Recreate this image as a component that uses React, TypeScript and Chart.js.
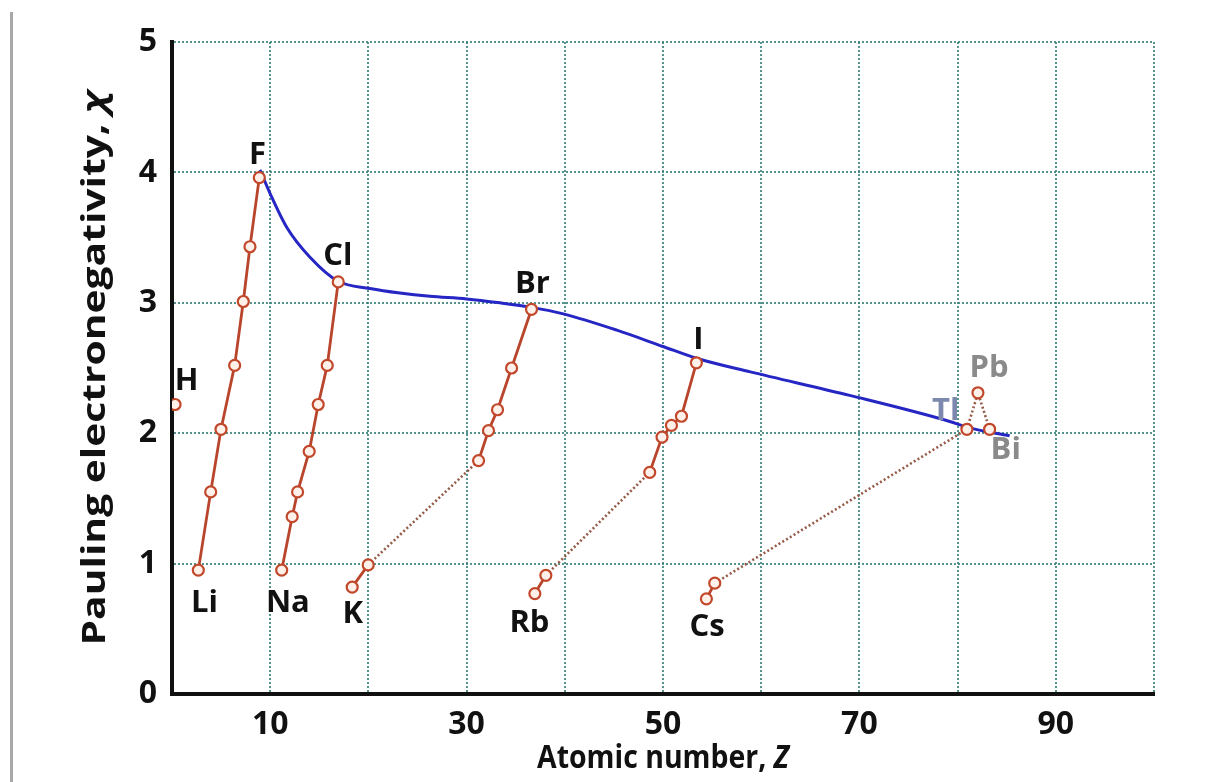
import React, { useEffect, useRef } from 'react';
import { Chart, registerables } from 'chart.js';

Chart.register(...registerables);

// ---- Data ----
const hydrogenX = [0.31];
const hydrogenY = [2.22];

// Period 2: Li, Be, B, C, N, O, F
const period2X = [2.68, 3.94, 4.99, 6.38, 7.26, 7.94, 8.89];
const period2Y = [0.95, 1.55, 2.03, 2.52, 3.01, 3.43, 3.96];

// Period 3: Na, Mg, Al, Si, P, S, Cl
const period3X = [11.17, 12.24, 12.79, 13.97, 14.89, 15.81, 16.93];
const period3Y = [0.95, 1.36, 1.55, 1.86, 2.22, 2.52, 3.16];

// Period 4: K, Ca | Ga, Ge, As, Se, Br
const period4sX = [18.35, 19.98];
const period4sY = [0.82, 0.99];
const period4pX = [31.22, 32.23, 33.15, 34.58, 36.61];
const period4pY = [1.79, 2.02, 2.18, 2.5, 2.95];

// Period 5: Rb, Sr | In, Sn, Sb, Te, I
const period5sX = [36.95, 38.07];
const period5sY = [0.77, 0.91];
const period5pX = [48.65, 49.9, 50.86, 51.88, 53.4];
const period5pY = [1.7, 1.97, 2.06, 2.13, 2.54];

// Period 6: Cs, Ba | Tl, Pb, Bi
const period6sX = [54.42, 55.27];
const period6sY = [0.73, 0.85];
const period6pX = [80.95, 82.07, 83.26];
const period6pY = [2.03, 2.31, 2.03];

// Halogen trend curve (blue)
const curveX = [8.96, 9.98, 11.68, 14.05, 16.93, 20.16, 23.2, 26.27, 30.0, 33.4, 36.63, 39.85, 45.3, 50.0, 53.4, 58.9, 69.0, 79.2, 81.0, 85.3];
const curveY = [4.02, 3.84, 3.58, 3.35, 3.165, 3.11, 3.075, 3.05, 3.03, 3.0, 2.965, 2.915, 2.79, 2.665, 2.575, 2.47, 2.29, 2.09, 2.045, 1.98];

// Element labels
const labelText = ['F', 'Cl', 'Br', 'I', 'H', 'Li', 'Na', 'K', 'Rb', 'Cs', 'Pb', 'Tl', 'Bi'];
const labelX = [8.7, 16.9, 36.7, 53.6, 1.5, 3.3, 11.8, 18.4, 36.4, 54.5, 83.2, 78.8, 84.9];
const labelY = [4.13, 3.36, 3.14, 2.71, 2.4, 0.7, 0.7, 0.61, 0.54, 0.51, 2.5, 2.17, 1.87];
const labelColor = ['#111', '#111', '#111', '#111', '#111', '#111', '#111', '#111', '#111', '#111', '#8a8a8a', '#7c88ad', '#8a8a8a'];

// Axes
const xMin = 0;
const xMax = 100;
const xStep = 10;
const yMin = 0;
const yMax = 5;
const yStep = 1;
const xTitle = 'Atomic number, ';
const xTitleItalic = 'Z';
const yTitle = 'Pauling electronegativity, ';
const yTitleItalic = 'χ';

const FONT = "'Open Sans', 'DejaVu Sans', sans-serif";
const RED = '#b8452c';
const MARKER_FILL = '#fff1ea';
const DOT = '#955a46';
const BLUE = '#2626c4';
const GRID = 'rgba(55,128,120,0.85)';

const pts = (xs: number[], ys: number[]) => xs.map((x, i) => ({ x, y: ys[i] }));
const last = (xs: number[], ys: number[]) => ({ x: xs[xs.length - 1], y: ys[ys.length - 1] });
const first = (xs: number[], ys: number[]) => ({ x: xs[0], y: ys[0] });

const solid = (data: { x: number; y: number }[]) => ({
  data,
  showLine: true,
  borderColor: RED,
  borderWidth: 2.8,
  pointRadius: 5.5,
  pointBorderWidth: 2.2,
  pointBorderColor: '#c2482b',
  pointBackgroundColor: MARKER_FILL,
  tension: 0,
  order: 1,
});

const dotted = (data: { x: number; y: number }[]) => ({
  data,
  showLine: true,
  borderColor: DOT,
  borderWidth: 2.6,
  borderDash: [2, 2.4],
  pointRadius: 0,
  tension: 0,
  order: 3,
});

const labelsPlugin = {
  id: 'elementLabels',
  afterDatasetsDraw(chart: any) {
    const { ctx, scales } = chart;
    ctx.save();
    ctx.font = `bold 31px ${FONT}`;
    ctx.textAlign = 'center';
    ctx.textBaseline = 'middle';
    labelText.forEach((t, i) => {
      ctx.fillStyle = labelColor[i];
      ctx.fillText(t, scales.x.getPixelForValue(labelX[i]), scales.y.getPixelForValue(labelY[i]));
    });
    ctx.restore();
  },
};

function drawMixed(ctx: CanvasRenderingContext2D, normal: string, italic: string, targetWidth: number) {
  ctx.font = `bold 32px ${FONT}`;
  const w1 = ctx.measureText(normal).width;
  ctx.font = `italic bold 32px ${FONT}`;
  const w2 = ctx.measureText(italic).width;
  const total = w1 + w2;
  const s = targetWidth / total;
  ctx.scale(s, 1);
  ctx.textBaseline = 'alphabetic';
  ctx.textAlign = 'left';
  ctx.fillStyle = '#111';
  ctx.font = `bold 32px ${FONT}`;
  ctx.fillText(normal, -total / 2, 0);
  ctx.font = `italic bold 32px ${FONT}`;
  ctx.fillText(italic, -total / 2 + w1, 0);
}

const titlesPlugin = {
  id: 'axisTitles',
  afterDraw(chart: any) {
    const { ctx, chartArea } = chart;
    ctx.save();
    ctx.translate((chartArea.left + chartArea.right) / 2, chartArea.bottom + 74);
    drawMixed(ctx, xTitle, xTitleItalic, 252);
    ctx.restore();
    ctx.save();
    ctx.translate(chartArea.left - 67, (chartArea.top + chartArea.bottom) / 2);
    ctx.rotate(-Math.PI / 2);
    drawMixed(ctx, yTitle, yTitleItalic, 555);
    ctx.restore();
  },
};

export default function App() {
  const ref = useRef<HTMLCanvasElement>(null);

  useEffect(() => {
    if (!ref.current) return;
    const chart = new Chart(ref.current, {
      type: 'scatter',
      data: {
        datasets: [
          solid(pts(period2X, period2Y)),
          solid(pts(period3X, period3Y)),
          solid(pts(period4sX, period4sY)),
          solid(pts(period4pX, period4pY)),
          solid(pts(period5sX, period5sY)),
          solid(pts(period5pX, period5pY)),
          solid(pts(period6sX, period6sY)),
          { ...solid(pts(period6pX, period6pY)), showLine: false },
          { ...solid(pts(hydrogenX, hydrogenY)), showLine: false },
          {
            data: pts(curveX, curveY),
            showLine: true,
            borderColor: BLUE,
            borderWidth: 3,
            pointRadius: 0,
            cubicInterpolationMode: 'monotone',
            order: 2,
          },
          dotted([last(period4sX, period4sY), first(period4pX, period4pY)]),
          dotted([last(period5sX, period5sY), first(period5pX, period5pY)]),
          dotted([last(period6sX, period6sY), first(period6pX, period6pY)]),
          dotted(pts(period6pX, period6pY)),
        ] as any,
      },
      options: {
        animation: false,
        responsive: false,
        devicePixelRatio: 1,
        layout: { padding: { left: 0, top: 42, right: 55, bottom: 0 } },
        plugins: {
          legend: { display: false },
          tooltip: { enabled: false },
        },
        scales: {
          x: {
            type: 'linear',
            min: xMin,
            max: xMax,
            afterFit: (s: any) => {
              s.height = 88;
            },
            ticks: {
              stepSize: xStep,
              color: '#111',
              font: { family: FONT, size: 32, weight: 'bold' },
              padding: 12,
              maxRotation: 0,
              autoSkip: false,
              callback: (v: any) => (Number(v) % 20 === 10 ? String(v) : ''),
            },
            grid: { color: GRID, lineWidth: 2, drawTicks: false },
            border: { color: '#111', width: 4, dash: [2, 2] },
          },
          y: {
            type: 'linear',
            min: yMin,
            max: yMax,
            afterFit: (s: any) => {
              s.width = 172;
            },
            ticks: {
              stepSize: yStep,
              color: '#111',
              font: { family: FONT, size: 32, weight: 'bold' },
              padding: 15,
            },
            grid: { color: GRID, lineWidth: 2, drawTicks: false },
            border: { color: '#111', width: 4, dash: [2, 2] },
          },
        },
      } as any,
      plugins: [labelsPlugin, titlesPlugin],
    });
    return () => chart.destroy();
  }, []);

  return (
    <div style={{ position: 'absolute', left: 0, top: 0, width: 1209, height: 782, background: '#fff' }}>
      <div style={{ position: 'absolute', left: 10, top: 12, width: 3, height: 770, background: '#a8a8a8' }} />
      <canvas ref={ref} width={1209} height={782} style={{ position: 'absolute', left: 0, top: 0 }} />
    </div>
  );
}
